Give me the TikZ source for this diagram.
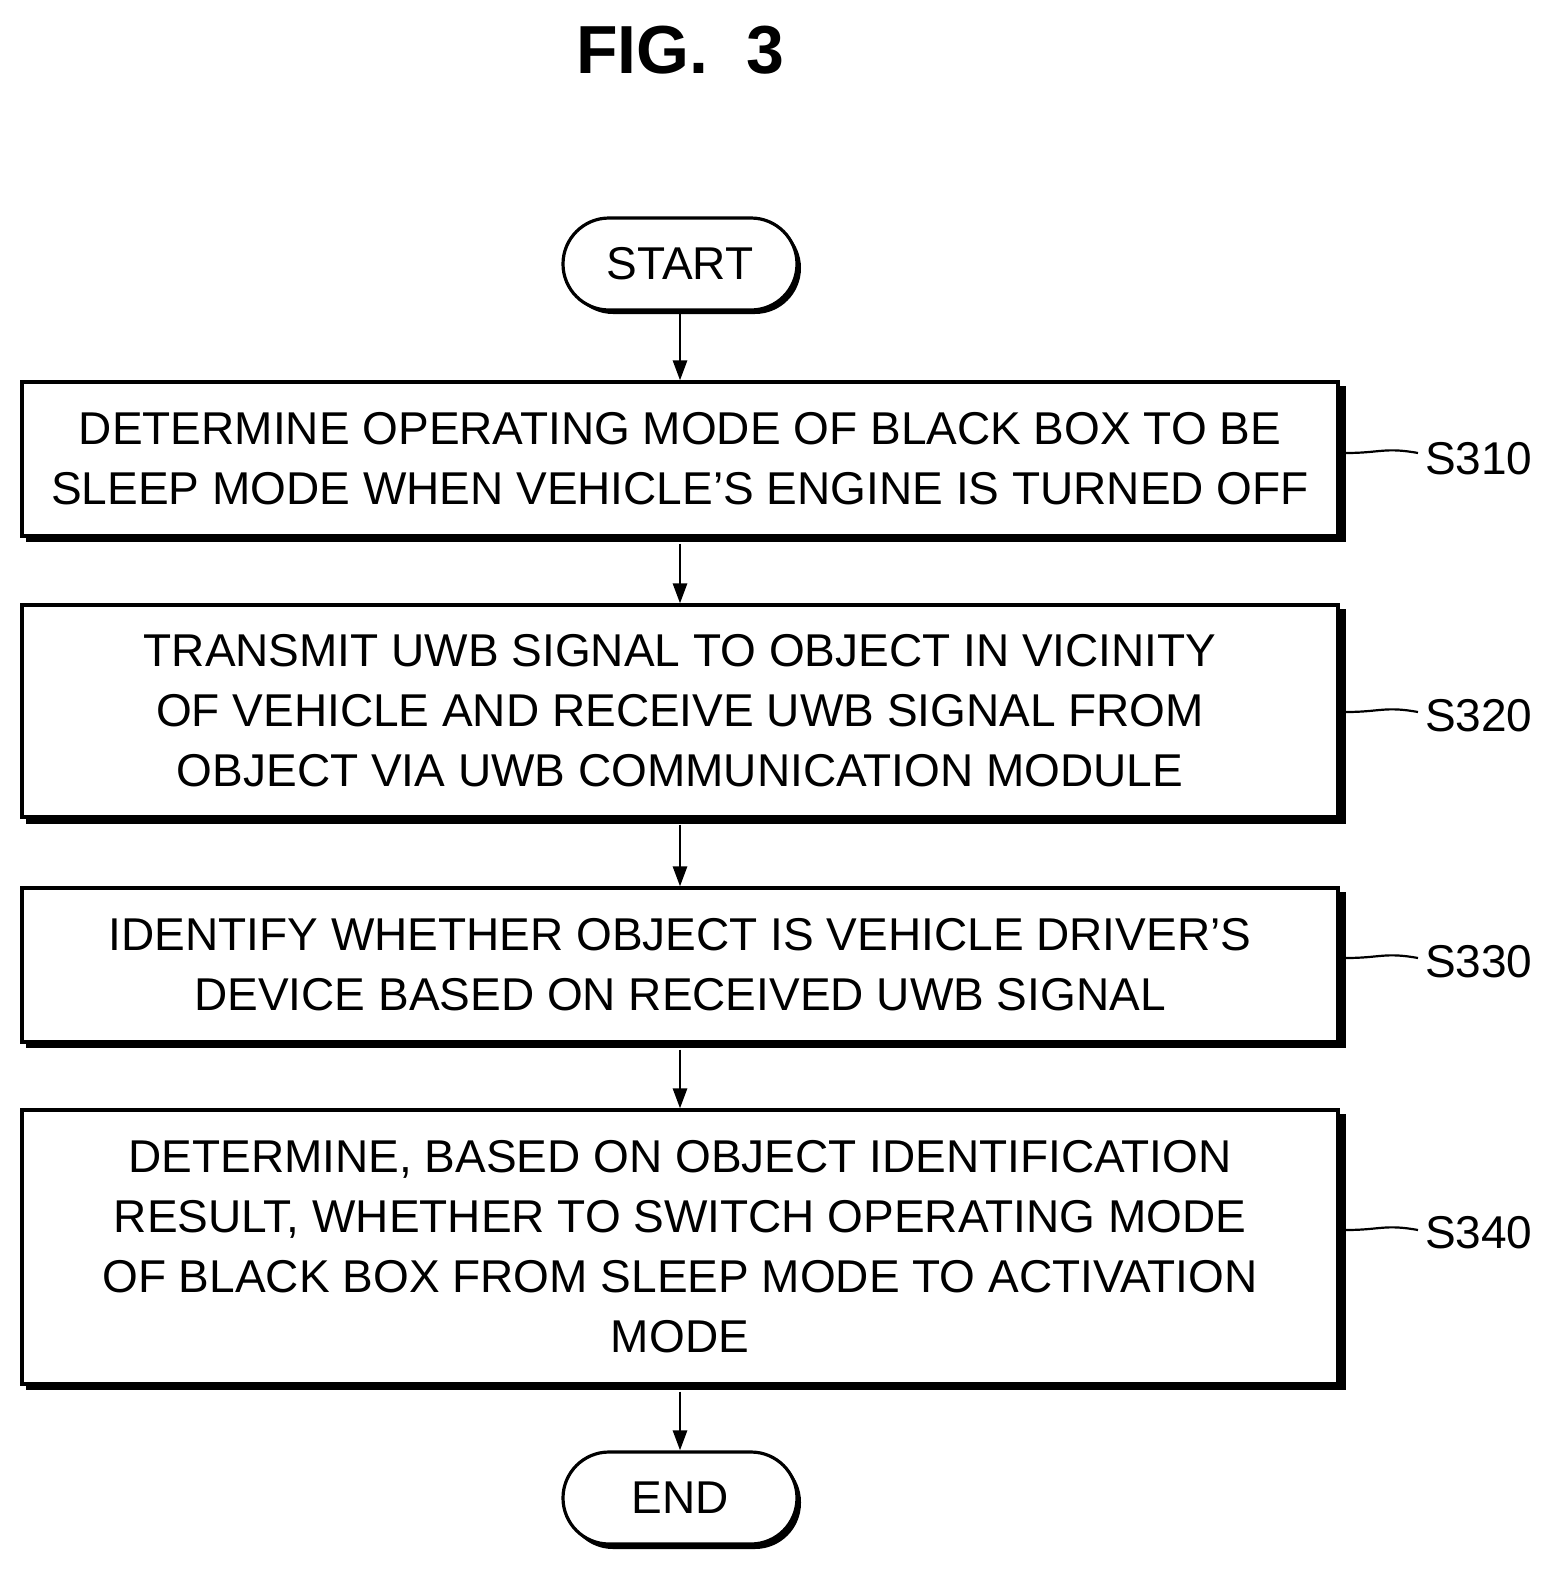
\documentclass[tikz,border=0pt]{standalone}
\usepackage{fontspec}
\setmainfont{Liberation Sans}
\usetikzlibrary{arrows.meta}
\begin{document}
\begin{tikzpicture}[x=0.5pt,y=-0.5pt,
 box/.style={draw,line width=1.6pt,fill=white,minimum width=658pt,align=center,font=\fontsize{23}{30}\selectfont,inner sep=0pt},
 term/.style={draw,line width=1.6pt,fill=white,rounded corners=23pt,minimum width=117pt,minimum height=46pt,font=\fontsize{23}{28}\selectfont,inner sep=0pt},
 arr/.style={line width=1.4pt,-{Triangle[length=10pt,width=7pt]}},
 lab/.style={font=\fontsize{23}{28}\selectfont,anchor=west},
 lead/.style={line width=1.1pt}]
\useasboundingbox (0,0) rectangle (1558,1576);
\node[font=\bfseries\fontsize{34}{40}\selectfont\rmfamily] (fig) at (680,50) {FIG.\ \ 3};
% shadows
\fill (26,386) rectangle (1346,542);
\fill (26,609) rectangle (1346,824);
\fill (26,892) rectangle (1346,1048);
\fill (26,1114) rectangle (1346,1390);
\fill[rounded corners=23pt] (567,222) rectangle (801,314);
\fill[rounded corners=23pt] (567,1456) rectangle (801,1549);
\node[term] (start) at (680,264) {START};
\node[term] (end) at (680,1498) {END};
\node[box,minimum height=77pt] (b1) at (680,459) {DETERMINE OPERATING MODE OF BLACK BOX TO BE\\SLEEP MODE WHEN VEHICLE’S ENGINE IS TURNED OFF};
\node[box,minimum height=106pt] (b2) at (680,711) {TRANSMIT UWB SIGNAL TO OBJECT IN VICINITY\\OF VEHICLE AND RECEIVE UWB SIGNAL FROM\\OBJECT VIA UWB COMMUNICATION MODULE};
\node[box,minimum height=77pt] (b3) at (680,965) {IDENTIFY WHETHER OBJECT IS VEHICLE DRIVER’S\\DEVICE BASED ON RECEIVED UWB SIGNAL};
\node[box,minimum height=137pt] (b4) at (680,1247) {DETERMINE, BASED ON OBJECT IDENTIFICATION\\RESULT, WHETHER TO SWITCH OPERATING MODE\\OF BLACK BOX FROM SLEEP MODE TO ACTIVATION\\MODE};
\draw[arr] (start) -- (b1);
\draw[arr] (b1.south) ++(0,6) coordinate (c1) -- (b2);
\draw[arr] (b2.south) ++(0,6) -- (b3);
\draw[arr] (b3.south) ++(0,6) -- (b4);
\draw[arr] (b4.south) ++(0,6) -- (end);
\node[lab] (s1) at (1418,459) {S310};
\node[lab] (s2) at (1418,716) {S320};
\node[lab] (s3) at (1418,962) {S330};
\node[lab] (s4) at (1418,1233) {S340};
\foreach \s/\y in {s1/453,s2/712,s3/958,s4/1230}
 \draw[lead] (1346,\y) .. controls (1380,\y) and (1385,\y-6) .. (s1.west |- 0,\y);
\end{tikzpicture}
\end{document}
